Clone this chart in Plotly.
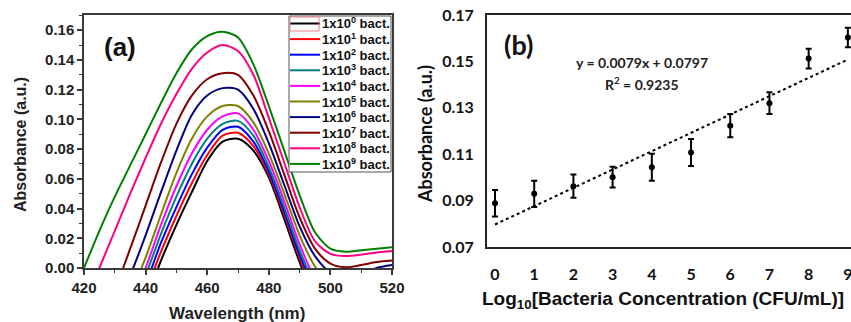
import plotly.graph_objects as go

W, H = 851, 322

# ---------------- Panel (a) data ----------------
wavelength = [420, 425, 430, 435, 440, 445, 450, 455, 460, 465, 470,
              475, 480, 485, 490, 495, 500, 505, 510, 515, 520]

abs_1e0 = [-0.110, -0.090, -0.070, -0.047, -0.022, 0.005, 0.029, 0.051, 0.072, 0.085, 0.087,
           0.079, 0.061, 0.033, 0.004, -0.020, -0.032, -0.036, -0.035, -0.033, -0.031]
abs_1e1 = [-0.105, -0.085, -0.063, -0.040, -0.016, 0.011, 0.035, 0.057, 0.076, 0.089, 0.091,
           0.082, 0.063, 0.036, 0.007, -0.017, -0.030, -0.034, -0.033, -0.031, -0.029]
abs_1e2 = [-0.100, -0.080, -0.058, -0.035, -0.011, 0.017, 0.041, 0.063, 0.081, 0.093, 0.095,
           0.085, 0.065, 0.038, 0.009, -0.014, -0.027, -0.031, -0.030, -0.028, -0.026]
abs_1e3 = [-0.095, -0.075, -0.053, -0.030, -0.005, 0.023, 0.048, 0.070, 0.087, 0.097, 0.099,
           0.089, 0.068, 0.041, 0.012, -0.011, -0.024, -0.028, -0.027, -0.025, -0.023]
abs_1e4 = [-0.090, -0.070, -0.048, -0.025, 0.000, 0.029, 0.055, 0.077, 0.093, 0.102, 0.104,
           0.093, 0.072, 0.045, 0.016, -0.007, -0.020, -0.024, -0.023, -0.021, -0.019]
abs_1e5 = [-0.085, -0.065, -0.043, -0.018, 0.007, 0.036, 0.064, 0.087, 0.102, 0.109, 0.109,
           0.098, 0.077, 0.050, 0.022, 0.001, -0.011, -0.015, -0.014, -0.012, -0.010]
abs_1e6 = [-0.070, -0.050, -0.028, -0.005, 0.022, 0.051, 0.079, 0.103, 0.116, 0.121, 0.120,
           0.107, 0.084, 0.056, 0.028, 0.008, -0.003, -0.006, -0.004, 0.000, 0.002]
abs_1e7 = [-0.060, -0.040, -0.015, 0.013, 0.042, 0.071, 0.097, 0.116, 0.127, 0.131, 0.130,
           0.116, 0.092, 0.063, 0.034, 0.013, 0.003, 0.0005, 0.002, 0.004, 0.005]
abs_1e8 = [-0.025, 0.000, 0.025, 0.050, 0.074, 0.097, 0.117, 0.134, 0.145, 0.150, 0.146,
           0.130, 0.101, 0.071, 0.041, 0.018, 0.0095, 0.008, 0.009, 0.0105, 0.0115]
abs_1e9 = [0.000, 0.025, 0.048, 0.069, 0.090, 0.111, 0.131, 0.147, 0.156, 0.159, 0.155,
           0.137, 0.109, 0.079, 0.049, 0.024, 0.013, 0.011, 0.012, 0.013, 0.014]

spectra = [abs_1e0, abs_1e1, abs_1e2, abs_1e3, abs_1e4,
           abs_1e5, abs_1e6, abs_1e7, abs_1e8, abs_1e9]
series_labels = ["1x10<sup>%d</sup> bact." % i for i in range(10)]
series_colors = ["#000000", "#ff0000", "#0000ff", "#008080", "#ff00ff",
                 "#808000", "#000080", "#800000", "#ff0080", "#008000"]

# ---------------- Panel (b) data ----------------
log_conc = [0, 1, 2, 3, 4, 5, 6, 7, 8, 9]
abs_mean = [0.0889, 0.0929, 0.0962, 0.1001, 0.1044, 0.1107, 0.1223, 0.1320, 0.1512, 0.1603]
abs_err = [0.0057, 0.0057, 0.0050, 0.0045, 0.0058, 0.0058, 0.0050, 0.0047, 0.0043, 0.0042]
trend_x = [0, 9]
trend_y = [0.0797, 0.1508]
y_ticks_b = [0.07, 0.09, 0.11, 0.13, 0.15, 0.17]


def px(x):
    return x / W


def py(y):
    return 1 - y / H


fig = go.Figure()

for lbl, col, ys in zip(series_labels, series_colors, spectra):
    fig.add_trace(go.Scatter(
        x=wavelength, y=ys, mode="lines", name=lbl, showlegend=False,
        line=dict(color=col, width=2, shape="spline", smoothing=0.8),
        xaxis="x", yaxis="y"))

fig.add_trace(go.Scatter(
    x=trend_x, y=trend_y, mode="lines", showlegend=False,
    line=dict(color="black", width=2, dash="dot"),
    xaxis="x2", yaxis="y2"))

fig.add_trace(go.Scatter(
    x=log_conc, y=abs_mean, mode="markers", showlegend=False,
    marker=dict(color="black", size=6),
    error_y=dict(type="data", array=abs_err, color="black", thickness=2, width=3),
    cliponaxis=False,
    xaxis="x2", yaxis="y2"))

ARIAL = "Liberation Sans, Arial, sans-serif"
CALIB = "Lato, Open Sans, sans-serif"
AX_COL = "#3a3a3a"

fig.update_layout(
    width=W, height=H,
    margin=dict(l=0, r=0, t=0, b=0, pad=0, autoexpand=False),
    paper_bgcolor="white", plot_bgcolor="white",
    xaxis=dict(domain=[px(84), px(392)], range=[420, 520],
               tickvals=[420, 440, 460, 480, 500, 520],
               ticks="outside", ticklen=5, tickwidth=1.5, tickcolor=AX_COL,
               minor=dict(dtick=10, tick0=420, ticks="outside", ticklen=3,
                          tickwidth=1.2, tickcolor=AX_COL),
               showline=True, mirror=True, linecolor=AX_COL, linewidth=1.5,
               showgrid=False, zeroline=False, automargin=False,
               tickfont=dict(family=ARIAL, size=15, color="#222", weight="bold")),
    yaxis=dict(domain=[py(268), py(15)], range=[0, 0.1702],
               tickvals=[0, 0.02, 0.04, 0.06, 0.08, 0.10, 0.12, 0.14, 0.16],
               tickformat=".2f",
               ticks="outside", ticklen=5, tickwidth=1.5, tickcolor=AX_COL,
               minor=dict(dtick=0.01, tick0=0, ticks="outside", ticklen=3,
                          tickwidth=1.2, tickcolor=AX_COL),
               showline=True, mirror=True, linecolor=AX_COL, linewidth=1.5,
               showgrid=False, zeroline=False, automargin=False,
               tickfont=dict(family=ARIAL, size=15, color="#222", weight="bold")),
    xaxis2=dict(domain=[px(487), 1.0], range=[-0.204, 9.08], anchor="y2",
                tickvals=log_conc, ticks="", ticklabelstandoff=12,
                ticklabeloverflow="allow",
                showline=True, mirror=True, linecolor="#222", linewidth=1.8,
                showgrid=False, zeroline=False, automargin=False,
                tickfont=dict(family=CALIB, size=16, color="#111", weight="bold")),
    yaxis2=dict(domain=[py(247), py(15)], range=[0.07, 0.17], anchor="x2",
                tickvals=y_ticks_b, tickformat=".2f", ticks="", ticklabelstandoff=8,
                showline=True, mirror=True, linecolor="#222", linewidth=1.8,
                showgrid=False, zeroline=False, automargin=False,
                tickfont=dict(family=CALIB, size=16, color="#111", weight="bold")),
)


def note(text, x, y, size, family, angle=0, xanchor="center", color="#111"):
    return dict(text=text, x=px(x), y=py(y), xref="paper", yref="paper",
                xanchor=xanchor, yanchor="middle", textangle=angle, showarrow=False,
                font=dict(family=family, size=size, color=color))


ann = []
# Panel labels
ann.append(note("<b>(a)</b>", 120, 47, 26, ARIAL))
ann.append(note("<b>(b)</b>", 518, 45, 27, CALIB))
# Axis titles
ann.append(note("<b>Absorbance (a.u.)</b>", 20, 145, 16, ARIAL, angle=-90, color="#222"))
ann.append(note("<b>Wavelength (nm)</b>", 237, 313, 17, ARIAL, color="#222"))
ann.append(note("<b>Absorbance (a.u.)</b>", 425, 134, 18, CALIB, angle=-90))
ann.append(note("<b>Log<sub>10</sub>[Bacteria Concentration (CFU/mL)]</b>", 663, 300, 19, ARIAL))
# Equation
ann.append(note("<b>y = 0.0079x + 0.0797</b>", 642, 63, 14, CALIB, color="#222"))
ann.append(note("<b>R<sup>2</sup> = 0.9235</b>", 642, 83, 14, CALIB, color="#222"))

shapes = []
# Legend box
leg_x0, leg_x1, leg_y0, leg_y1 = 289, 391, 16, 172
shapes.append(dict(type="rect", xref="paper", yref="paper",
                   x0=px(leg_x0), x1=px(leg_x1), y0=py(leg_y1), y1=py(leg_y0),
                   line=dict(color="#555", width=1), fillcolor="white", layer="above"))
item0, step = 23.5, 15.6
for i, (lbl, col) in enumerate(zip(series_labels, series_colors)):
    yc = item0 + i * step
    shapes.append(dict(type="line", xref="paper", yref="paper",
                       x0=px(290), x1=px(320), y0=py(yc), y1=py(yc),
                       line=dict(color=col, width=2), layer="above"))
    ann.append(note("<b>" + lbl + "</b>", 320, yc, 13, ARIAL, xanchor="left"))
# selection artefact around first legend sample
shapes.append(dict(type="rect", xref="paper", yref="paper",
                   x0=px(290), x1=px(319), y0=py(31), y1=py(17),
                   line=dict(color="#f08080", width=1), layer="above"))

fig.update_layout(annotations=ann, shapes=shapes)

fig.write_html("out.html")
